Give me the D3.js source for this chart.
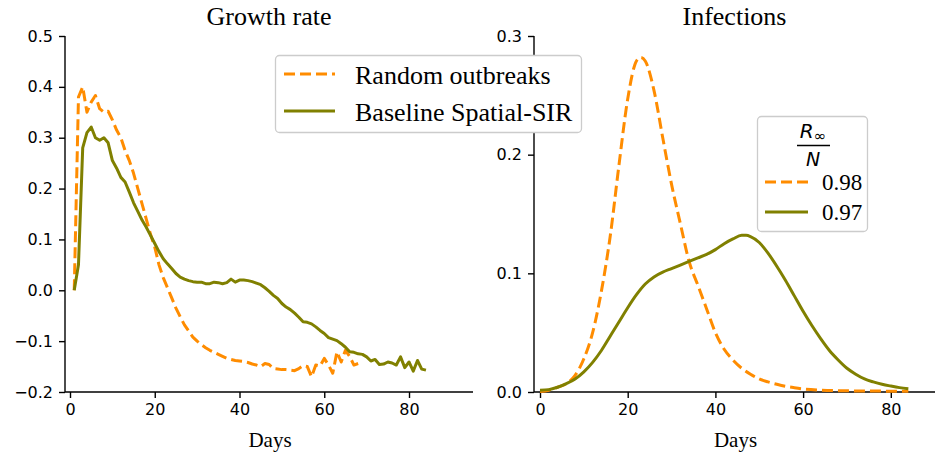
<!DOCTYPE html>
<html><head><meta charset="utf-8">
<script src="https://cdn.jsdelivr.net/npm/d3@7"></script>
<style>body{margin:0;background:#fff} svg{display:block}</style>
</head><body><svg id="c" width="935" height="454"></svg>
<script>
// ---------- data ----------
const growthRandomDays = d3.range(1, 69);
const growthRandom = [
  0.0, 0.38, 0.40, 0.35, 0.37, 0.383, 0.357, 0.35, 0.352, 0.335,
  0.315, 0.30, 0.275, 0.255, 0.23, 0.20, 0.17, 0.14, 0.11, 0.085,
  0.05, 0.025, 0.005, -0.015, -0.035, -0.052, -0.068, -0.08, -0.092, -0.10,
  -0.107, -0.113, -0.118, -0.122, -0.126, -0.13, -0.134, -0.136, -0.138, -0.139,
  -0.14, -0.142, -0.145, -0.147, -0.15, -0.144, -0.146, -0.154, -0.155, -0.156,
  -0.156, -0.157, -0.158, -0.154, -0.148, -0.15, -0.17, -0.147, -0.149, -0.134,
  -0.147, -0.163, -0.121, -0.141, -0.118, -0.13, -0.147, -0.144
];
const growthBaselineDays = d3.range(1, 85);
const growthBaseline = [
  0.0, 0.05, 0.28, 0.31, 0.321, 0.30, 0.295, 0.30, 0.29, 0.255,
  0.24, 0.222, 0.213, 0.193, 0.172, 0.155, 0.138, 0.124, 0.108, 0.092,
  0.076, 0.062, 0.052, 0.043, 0.033, 0.026, 0.022, 0.019, 0.017, 0.016,
  0.016, 0.013, 0.013, 0.016, 0.015, 0.013, 0.015, 0.022, 0.016, 0.02,
  0.02, 0.019, 0.017, 0.014, 0.011, 0.005, -0.002, -0.01, -0.016, -0.026,
  -0.033, -0.038, -0.045, -0.053, -0.062, -0.063, -0.066, -0.072, -0.079, -0.085,
  -0.093, -0.096, -0.099, -0.105, -0.112, -0.121, -0.122, -0.125, -0.126, -0.131,
  -0.139, -0.136, -0.146, -0.145, -0.141, -0.143, -0.147, -0.131, -0.152, -0.141,
  -0.159, -0.138, -0.155, -0.157
];
const infRandomDays = [0,2,4,6,8,10,12,14,16,18,20,22,23,24,26,28,30,32,34,36,38,40,42,44,46,48,50,52,54,56,58,60,64,68,72,76,80,84];
const infRandom = [0.0005,0.0015,0.004,0.007,0.014,0.028,0.05,0.085,0.131,0.191,0.247,0.279,0.282,0.279,0.254,0.214,0.175,0.142,0.11,0.09,0.07,0.05,0.036,0.027,0.02,0.015,0.011,0.0085,0.0065,0.0048,0.0036,0.0026,0.0016,0.0011,0.0009,0.0008,0.0007,0.0007];
const infBaselineDays = [0,2,4,6,8,10,12,14,16,18,20,22,24,26,28,30,32,34,36,38,40,42,44,46,47,48,50,52,54,56,58,60,62,64,66,68,70,72,74,76,78,80,82,84];
const infBaseline = [0.0015,0.002,0.004,0.007,0.011,0.017,0.025,0.035,0.047,0.059,0.071,0.082,0.091,0.097,0.101,0.104,0.107,0.110,0.113,0.116,0.120,0.125,0.129,0.132,0.132,0.131,0.126,0.117,0.106,0.094,0.081,0.068,0.056,0.045,0.035,0.027,0.020,0.015,0.011,0.0085,0.0065,0.005,0.0037,0.0028];
const xTicks = [0, 20, 40, 60, 80];
const growthTicks = [-0.2, -0.1, 0.0, 0.1, 0.2, 0.3, 0.4, 0.5];
const infTicks = [0.0, 0.1, 0.2, 0.3];
const seriesNames = ["Random outbreaks", "Baseline Spatial-SIR"];
const rInfLabels = ["0.98", "0.97"];
const colors = ["#ff8c00", "#808000"];

// ---------- setup ----------
const svg = d3.select("#c");
const SERIF = "'Liberation Serif', 'Times New Roman', serif";
const SANS = "'DejaVu Sans', sans-serif";
const fmt = v => d3.format(".1f")(v).replace("-", "\u2212");

function panel(x0, x1, xDom, yDom, yTicks, title) {
  const x = d3.scaleLinear().domain(xDom).range([x0, x1]);
  const y = d3.scaleLinear().domain(yDom).range([392, 36]);
  const gx = svg.append("g").attr("transform", "translate(0,392)")
    .call(d3.axisBottom(x).tickValues(xTicks).tickSize(6).tickPadding(6).tickFormat(d3.format("d")));
  const gy = svg.append("g").attr("transform", `translate(${x0},0)`)
    .call(d3.axisLeft(y).tickValues(yTicks).tickSize(6).tickPadding(6).tickFormat(fmt));
  [gx, gy].forEach(g => {
    g.select(".domain").attr("stroke", "#000").attr("stroke-width", 1.4);
    g.selectAll(".tick line").attr("stroke", "#000").attr("stroke-width", 1.4);
    g.selectAll(".tick text").attr("font-family", SANS).attr("font-size", 16).attr("fill", "#000");
  });
  gy.select(".domain").attr("d", `M0,392V36`);
  gx.select(".domain").attr("d", `M${x0},0H${x1}`);
  svg.append("text").attr("x", (x0 + x1) / 2).attr("y", 25).attr("text-anchor", "middle")
    .attr("font-family", SERIF).attr("font-size", 26).text(title);
  svg.append("text").attr("x", (x0 + x1) / 2 + 1).attr("y", 447).attr("text-anchor", "middle")
    .attr("font-family", SERIF).attr("font-size", 21).text("Days");
  return {x, y};
}

function drawLine(sc, days, vals, color, dashed, curve) {
  const line = d3.line().x((d, i) => sc.x(days[i])).y(d => sc.y(d)).curve(curve);
  svg.append("path").datum(vals).attr("d", line).attr("fill", "none")
    .attr("stroke", color).attr("stroke-width", 3)
    .attr("stroke-linejoin", "round")
    .attr("stroke-dasharray", dashed ? "11,5" : null);
}

// left panel
const L = panel(65, 473, [-1.18, 95.1], [-0.2, 0.5], growthTicks, "Growth rate");
drawLine(L, growthRandomDays, growthRandom, colors[0], true, d3.curveLinear);
drawLine(L, growthBaselineDays, growthBaseline, colors[1], false, d3.curveLinear);

// right panel
const R = panel(534, 935, [-1.37, 90.08], [0, 0.3], infTicks, "Infections");
drawLine(R, infRandomDays, infRandom, colors[0], true, d3.curveMonotoneX);
drawLine(R, infBaselineDays, infBaseline, colors[1], false, d3.curveMonotoneX);

// left legend
const lg = svg.append("g");
lg.append("rect").attr("x", 275.5).attr("y", 55.5).attr("width", 306).attr("height", 77)
  .attr("rx", 4).attr("fill", "#fff").attr("stroke", "#cccccc").attr("stroke-width", 1.3);
seriesNames.forEach((name, i) => {
  const yy = 74 + i * 37;
  lg.append("line").attr("x1", 284).attr("x2", 335).attr("y1", yy).attr("y2", yy)
    .attr("stroke", colors[i]).attr("stroke-width", 3)
    .attr("stroke-dasharray", i === 0 ? "11,5" : null);
  lg.append("text").attr("x", 355).attr("y", yy + 10).attr("font-family", SERIF)
    .attr("font-size", 26).text(name);
});

// right legend
const rg = svg.append("g");
rg.append("rect").attr("x", 757.5).attr("y", 116.5).attr("width", 110).attr("height", 115)
  .attr("rx", 4).attr("fill", "#fff").attr("stroke", "#cccccc").attr("stroke-width", 1.3);
const tt = rg.append("text").attr("x", 813).attr("y", 138).attr("text-anchor", "middle")
  .attr("font-family", SANS).attr("font-size", 20);
tt.append("tspan").attr("font-style", "italic").text("R");
tt.append("tspan").attr("font-size", 15).attr("dy", 3).text("\u221e");
rg.append("line").attr("x1", 797).attr("x2", 830).attr("y1", 145.5).attr("y2", 145.5)
  .attr("stroke", "#000").attr("stroke-width", 1.6);
rg.append("text").attr("x", 813).attr("y", 166).attr("text-anchor", "middle")
  .attr("font-family", SANS).attr("font-size", 19).attr("font-style", "italic").text("N");
rInfLabels.forEach((lab, i) => {
  const yy = 182 + i * 30;
  rg.append("line").attr("x1", 765).attr("x2", 808).attr("y1", yy).attr("y2", yy)
    .attr("stroke", colors[i]).attr("stroke-width", 3)
    .attr("stroke-dasharray", i === 0 ? "11,5" : null);
  rg.append("text").attr("x", 822).attr("y", yy + 8).attr("font-family", SERIF)
    .attr("font-size", 23).text(lab);
});
</script></body></html>
